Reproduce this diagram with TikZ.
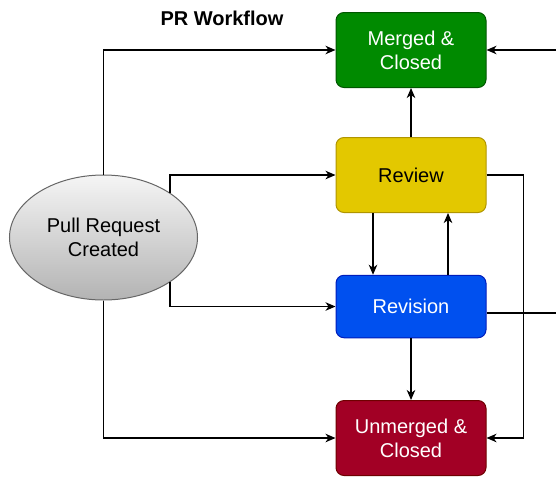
\documentclass[tikz,border=0pt]{standalone}
\usepackage{fontspec}
\setmainfont{Liberation Sans}
\usetikzlibrary{shapes.geometric,arrows.meta,shadings}
\definecolor{mergefill}{HTML}{008A00}
\definecolor{mergeline}{HTML}{005700}
\definecolor{reviewfill}{HTML}{E3C800}
\definecolor{reviewline}{HTML}{B09500}
\definecolor{revisefill}{HTML}{0050EF}
\definecolor{reviseline}{HTML}{001DBC}
\definecolor{closefill}{HTML}{A20025}
\definecolor{closeline}{HTML}{6F0000}
\definecolor{startline}{HTML}{666666}
\definecolor{starttop}{HTML}{F5F5F5}
\definecolor{startbot}{HTML}{B3B3B3}
\begin{document}
\begin{tikzpicture}[x=1pt,y=-1pt,
  state/.style={rectangle, rounded corners=8pt, line width=1pt,
    minimum width=150pt, minimum height=75pt, inner sep=0pt,
    align=center, font=\fontsize{20}{24}\selectfont, text=white},
  startnode/.style={ellipse, draw=startline, line width=1pt,
    top color=starttop, bottom color=startbot,
    minimum width=188pt, minimum height=125pt, inner sep=0pt,
    align=center, font=\fontsize{20}{24}\selectfont},
  flow/.style={line width=1.2pt, -{Stealth[length=10pt,width=8.5pt,inset=3pt]}}
]
\useasboundingbox (0,0) rectangle (556,479);
\clip (0,0) rectangle (556,479);

% title
\node[anchor=base, font=\fontsize{20}{24}\selectfont\bfseries] (title) at (222,25) {PR Workflow};

% states
\node[state, fill=mergefill, draw=mergeline] (merged) at (411,50) {Merged \&\\Closed};
\node[state, fill=reviewfill, draw=reviewline, text=black] (review) at (411,175) {Review};
\node[state, fill=revisefill, draw=reviseline, minimum height=62.5pt] (revision) at (411,306.5) {Revision};
\node[state, fill=closefill, draw=closeline] (unmerged) at (411,438) {Unmerged \&\\Closed};
\node[startnode] (pr) at (103.5,237.5) {Pull Request\\Created};

% helper points for routed edges
\coordinate (rightrail) at (523.5,175);
\coordinate (outside) at (600,313);

% connectors
\draw[flow] (pr.north) |- (merged.west);
\draw[flow] (pr.34) |- (review.west);
\draw[flow] (pr.-34) |- (revision.west);
\draw[flow] (pr.south) |- (unmerged.west);
\draw[flow] (review.north) -- (merged.south);
\draw[flow] ([xshift=-38pt]review.south) -- ([xshift=-38pt]revision.north);
\draw[flow] ([xshift=37pt]revision.north) -- ([xshift=37pt]review.south);
\draw[flow] (revision.south) -- (unmerged.north);
\draw[flow] (review.east) -- (rightrail) |- (unmerged.east);
\draw[flow] ([yshift=-6.5pt]revision.east) -- (outside) |- (merged.east);
\end{tikzpicture}
\end{document}
